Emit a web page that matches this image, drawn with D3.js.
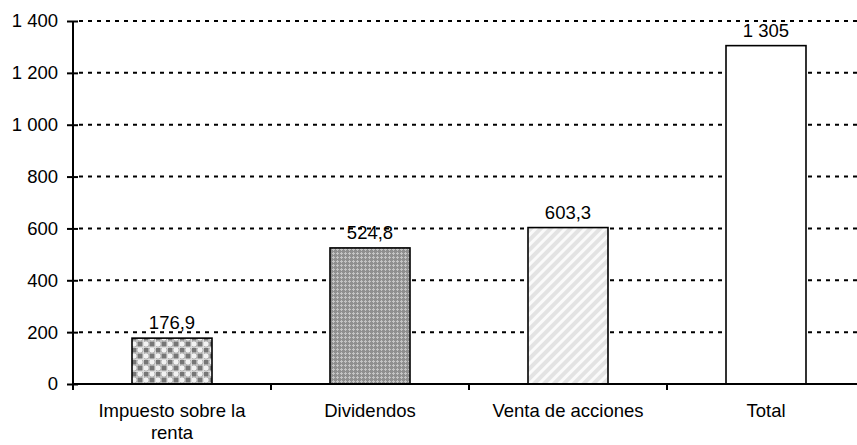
<!DOCTYPE html>
<html>
<head>
<meta charset="utf-8">
<script src="https://cdn.jsdelivr.net/npm/d3@7"></script>
<style>
  body { margin: 0; background: #fff; }
  text { font-family: "Liberation Sans", Arial, sans-serif; fill: #000; }
</style>
</head>
<body>
<div id="chart"></div>
<script>
const categories = ["Impuesto sobre la renta", "Dividendos", "Venta de acciones", "Total"];
const values = [176.9, 524.8, 603.3, 1305];
const yTicks = [0, 200, 400, 600, 800, 1000, 1200, 1400];
const fills = ["url(#pat-circles)", "url(#pat-cross)", "url(#pat-stripes)", "#fff"];

const W = 857, H = 445;
const margin = {top: 21, left: 73, bottom: 61};
const fontSize = 18.5;

const loc = d3.formatLocale({decimal: ",", thousands: " ", grouping: [3], currency: ["", ""]});
const fmtTick = loc.format(",d");
const fmtVal = v => Number.isInteger(v) ? loc.format(",d")(v) : loc.format(",.1f")(v);

const svg = d3.select("#chart").append("svg")
    .attr("width", W)
    .attr("height", H);

// fill patterns
const defs = svg.append("defs");

const p1 = defs.append("pattern").attr("id", "pat-circles")
    .attr("patternUnits", "userSpaceOnUse").attr("width", 12).attr("height", 12);
p1.append("rect").attr("width", 12).attr("height", 12).attr("fill", "#dcdcdc");
p1.append("rect").attr("x", -0.5).attr("y", -0.5).attr("width", 5).attr("height", 5).attr("fill", "#767676");
p1.append("rect").attr("x", 5.5).attr("y", 5.5).attr("width", 5).attr("height", 5).attr("fill", "#767676");
p1.append("circle").attr("cx", 8).attr("cy", 2).attr("r", 3.2).attr("fill", "#f2f2f2").attr("stroke", "#a0a0a0").attr("stroke-width", 0.9);
p1.append("circle").attr("cx", 2).attr("cy", 8).attr("r", 3.2).attr("fill", "#f2f2f2").attr("stroke", "#a0a0a0").attr("stroke-width", 0.9);

const p2 = defs.append("pattern").attr("id", "pat-cross")
    .attr("patternUnits", "userSpaceOnUse").attr("width", 4).attr("height", 4);
p2.append("rect").attr("width", 4).attr("height", 4).attr("fill", "#8f8f8f");
p2.append("rect").attr("x", 1).attr("y", 0).attr("width", 1).attr("height", 3).attr("fill", "#c4c4c4");
p2.append("rect").attr("x", 0).attr("y", 1).attr("width", 3).attr("height", 1).attr("fill", "#c4c4c4");

const p3 = defs.append("pattern").attr("id", "pat-stripes")
    .attr("patternUnits", "userSpaceOnUse").attr("width", 7).attr("height", 7)
    .attr("patternTransform", "rotate(45)");
p3.append("rect").attr("width", 7).attr("height", 7).attr("fill", "#e3e3e3");
p3.append("rect").attr("x", 0).attr("y", 0).attr("width", 3).attr("height", 7).attr("fill", "#fafafa");

// scales
const x = d3.scaleBand()
    .domain(categories)
    .range([margin.left, margin.left + 198 * categories.length])
    .paddingInner(0.596)
    .paddingOuter(0.298);

const y = d3.scaleLinear()
    .domain([0, 1400])
    .range([H - margin.bottom, margin.top]);

// dotted gridlines
svg.append("g")
  .selectAll("line")
  .data(yTicks.filter(d => d > 0))
  .join("line")
    .attr("x1", margin.left + 6)
    .attr("x2", W)
    .attr("y1", d => y(d))
    .attr("y2", d => y(d))
    .attr("stroke", "#000")
    .attr("stroke-width", 2)
    .attr("stroke-dasharray", "4,5");

// bars
svg.append("g")
  .selectAll("rect")
  .data(values)
  .join("rect")
    .attr("x", (d, i) => x(categories[i]))
    .attr("y", d => y(d))
    .attr("width", x.bandwidth())
    .attr("height", d => y(0) - y(d))
    .attr("fill", (d, i) => fills[i])
    .attr("stroke", "#000")
    .attr("stroke-width", 1.6);

// value labels
svg.append("g")
  .selectAll("text")
  .data(values)
  .join("text")
    .attr("x", (d, i) => x(categories[i]) + x.bandwidth() / 2)
    .attr("y", d => y(d) - 9)
    .attr("text-anchor", "middle")
    .attr("font-size", fontSize)
    .text(d => fmtVal(d));

// y axis
svg.append("g")
    .attr("transform", `translate(${margin.left},0)`)
    .call(d3.axisLeft(y).tickValues(yTicks).tickFormat(fmtTick).tickSize(6).tickPadding(9))
    .call(g => g.select(".domain").attr("stroke-width", 2).attr("d", `M0,${y(0) + 6}V${y(1400)}`))
    .call(g => g.selectAll(".tick line").attr("x1", 5).attr("stroke-width", 2))
    .call(g => g.selectAll(".tick text").attr("font-size", fontSize).attr("font-family", null));

// x axis line + ticks at band boundaries
const xAxis = svg.append("g");
xAxis.append("line")
    .attr("x1", margin.left).attr("x2", W)
    .attr("y1", y(0)).attr("y2", y(0))
    .attr("stroke", "#000").attr("stroke-width", 2);
xAxis.selectAll(".xt")
  .data(categories.slice(1))
  .join("line")
    .attr("class", "xt")
    .attr("x1", d => x(d) + x.bandwidth() / 2 - x.step() / 2)
    .attr("x2", d => x(d) + x.bandwidth() / 2 - x.step() / 2)
    .attr("y1", y(0))
    .attr("y2", y(0) + 6)
    .attr("stroke", "#000").attr("stroke-width", 2);

// category labels, wrapped
const catText = xAxis.selectAll(".cat")
  .data(categories)
  .join("text")
    .attr("class", "cat")
    .attr("x", d => x(d) + x.bandwidth() / 2)
    .attr("y", y(0) + 33)
    .attr("text-anchor", "middle")
    .attr("font-size", fontSize);

catText.each(function(d) {
  const t = d3.select(this);
  const words = d.split(" ");
  const lines = [];
  let line = [];
  const probe = t.append("tspan");
  words.forEach(w => {
    line.push(w);
    probe.text(line.join(" "));
    if (probe.node().getComputedTextLength() > 170 && line.length > 1) {
      line.pop();
      lines.push(line.join(" "));
      line = [w];
    }
  });
  lines.push(line.join(" "));
  probe.remove();
  lines.forEach((l, i) => {
    t.append("tspan")
      .attr("x", x(d) + x.bandwidth() / 2)
      .attr("dy", i === 0 ? 0 : 22)
      .text(l);
  });
});
</script>
</body>
</html>
